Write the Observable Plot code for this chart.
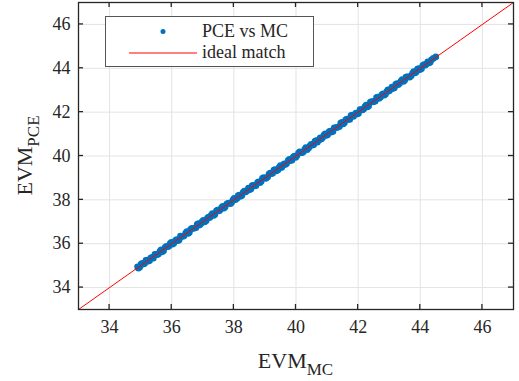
<!DOCTYPE html>
<html>
<head>
<meta charset="utf-8">
<script src="https://cdn.jsdelivr.net/npm/d3@7"></script>
<script src="https://cdn.jsdelivr.net/npm/@observablehq/plot@0.6"></script>
<style>
  html, body { margin: 0; padding: 0; background: #fff; }
  svg { display: block; }
</style>
</head>
<body>
<div id="chart"></div>
<script>
// ---- data ----
const mcValues = [34.90,34.97,35.05,35.13,35.21,35.29,35.37,35.46,35.54,35.62,35.70,35.79,35.87,35.95,36.03,36.12,36.20,36.28,36.36,36.45,36.53,36.61,36.69,36.78,36.86,36.94,37.02,37.11,37.19,37.27,37.35,37.44,37.52,37.60,37.68,37.77,37.85,37.93,38.01,38.10,38.18,38.26,38.34,38.43,38.51,38.59,38.67,38.76,38.84,38.92,39.00,39.09,39.17,39.25,39.33,39.42,39.50,39.58,39.66,39.75,39.83,39.91,39.99,40.08,40.16,40.24,40.32,40.41,40.49,40.57,40.65,40.74,40.82,40.90,40.98,41.07,41.15,41.23,41.31,41.40,41.48,41.56,41.64,41.73,41.81,41.89,41.97,42.06,42.14,42.22,42.30,42.39,42.47,42.55,42.63,42.72,42.80,42.88,42.96,43.05,43.13,43.21,43.29,43.38,43.46,43.54,43.62,43.71,43.79,43.87,43.95,44.04,44.12,44.20,44.28,44.36,44.50];
const pceValues = [34.95,34.93,35.11,35.10,35.26,35.23,35.38,35.52,35.50,35.65,35.63,35.84,35.86,36.01,35.98,36.14,36.14,36.35,36.33,36.49,36.47,36.66,36.70,36.73,36.92,36.91,37.07,37.05,37.22,37.30,37.29,37.50,37.49,37.64,37.62,37.81,37.86,37.88,38.07,38.06,38.22,38.20,38.40,38.42,38.46,38.65,38.63,38.79,38.78,38.98,38.99,39.04,39.22,39.21,39.38,39.36,39.56,39.57,39.61,39.80,39.79,39.95,39.93,40.13,40.15,40.19,40.38,40.37,40.53,40.51,40.71,40.73,40.77,40.96,40.94,41.11,41.09,41.29,41.30,41.35,41.54,41.52,41.68,41.67,41.87,41.88,41.92,42.12,42.10,42.26,42.24,42.45,42.46,42.50,42.69,42.68,42.84,42.82,43.02,43.04,43.08,43.27,43.25,43.42,43.40,43.60,43.61,43.66,43.85,43.83,43.99,43.98,44.17,44.19,44.24,44.39,44.52];
const mcValues2 = [34.93,35.01,35.09,35.17,35.25,35.33,35.41,35.50,35.58,35.66,35.74,35.83,35.91,35.99,36.07,36.16,36.24,36.32,36.40,36.49,36.57,36.65,36.73,36.82,36.90,36.98,37.06,37.15,37.23,37.31,37.39,37.48,37.56,37.64,37.72,37.81,37.89,37.97,38.05,38.14,38.22,38.30,38.38,38.47,38.55,38.63,38.71,38.80,38.88,38.96,39.04,39.13,39.21,39.29,39.37,39.46,39.54,39.62,39.70,39.79,39.87,39.95,40.03,40.12,40.20,40.28,40.36,40.45,40.53,40.61,40.69,40.78,40.86,40.94,41.02,41.11,41.19,41.27,41.35,41.44,41.52,41.60,41.68,41.77,41.85,41.93,42.01,42.10,42.18,42.26,42.34,42.43,42.51,42.59,42.67,42.76,42.84,42.92,43.00,43.09,43.17,43.25,43.33,43.42,43.50,43.58,43.66,43.75,43.83,43.91,43.99,44.08,44.16,44.24,44.32,44.42];
const pceValues2 = [34.88,35.06,35.07,35.24,35.20,35.36,35.34,35.52,35.54,35.72,35.68,35.88,35.89,36.06,36.02,36.19,36.17,36.34,36.36,36.55,36.51,36.70,36.71,36.89,36.85,37.01,36.99,37.17,37.19,37.37,37.33,37.53,37.54,37.71,37.67,37.84,37.82,37.99,38.01,38.20,38.16,38.35,38.36,38.54,38.50,38.66,38.64,38.82,38.84,39.02,38.98,39.18,39.19,39.36,39.32,39.49,39.47,39.64,39.66,39.85,39.81,40.00,40.01,40.19,40.15,40.31,40.29,40.47,40.49,40.67,40.63,40.83,40.84,41.01,40.97,41.14,41.12,41.29,41.31,41.50,41.46,41.65,41.66,41.84,41.80,41.96,41.94,42.12,42.14,42.32,42.28,42.48,42.49,42.66,42.62,42.79,42.77,42.94,42.96,43.15,43.11,43.30,43.31,43.49,43.45,43.61,43.59,43.77,43.79,43.97,43.93,44.13,44.14,44.30,44.27,44.45];
const idealX = [33, 47];
const idealY = [33, 47];
const axisDomain = [33, 47];
const tickValues = [34, 36, 38, 40, 42, 44, 46];
const legendLabels = ["PCE vs MC", "ideal match"];
const xLabel = ["EVM", "MC"];
const yLabel = ["EVM", "PCE"];

const points = mcValues.map((mc, i) => ({mc, pce: pceValues[i]}))
  .concat(mcValues2.map((mc, i) => ({mc, pce: pceValues2[i]})));
const ideal = idealX.map((x, i) => ({x, y: idealY[i]}));

const BLUE = "#0072BD", RED = "#FF0000", INK = "#262626", GRID = "#e3e3e3";
const FONT = "'Liberation Serif', 'Times New Roman', serif";

const plot = Plot.plot({
  width: 519,
  height: 381,
  marginLeft: 78,
  marginRight: 6,
  marginTop: 2,
  marginBottom: 72,
  style: {fontFamily: "Liberation Serif", fontSize: "18px", color: INK, background: "#fff"},
  x: {domain: axisDomain, label: null},
  y: {domain: axisDomain, label: null},
  marks: [
    Plot.gridX(tickValues, {stroke: GRID, strokeOpacity: 1}),
    Plot.gridY(tickValues, {stroke: GRID, strokeOpacity: 1}),
    Plot.axisX(tickValues, {tickSize: 0, tickPadding: 11, label: null, fontSize: 18, fill: INK}),
    Plot.axisY(tickValues, {tickSize: 0, tickPadding: 8, label: null, fontSize: 18, fill: INK}),
    Plot.dot(points, {x: "mc", y: "pce", r: 3.3, fill: BLUE, stroke: "none"}),
    Plot.line(ideal, {x: "x", y: "y", stroke: RED, strokeWidth: 1}),
    Plot.frame({stroke: INK, strokeWidth: 1.3})
  ]
});

document.getElementById("chart").appendChild(plot);

const svg = d3.select(plot);
const xs = plot.scale("x"), ys = plot.scale("y");
const x0 = xs.apply(axisDomain[0]), x1 = xs.apply(axisDomain[1]);
const y0 = ys.apply(axisDomain[0]), y1 = ys.apply(axisDomain[1]);
const tl = 5;
const tg = svg.append("g").attr("stroke", INK).attr("stroke-width", 1.3);
tickValues.forEach(v => {
  const px = xs.apply(v), py = ys.apply(v);
  tg.append("line").attr("x1", px).attr("x2", px).attr("y1", y0).attr("y2", y0 - tl);
  tg.append("line").attr("x1", px).attr("x2", px).attr("y1", y1).attr("y2", y1 + tl);
  tg.append("line").attr("y1", py).attr("y2", py).attr("x1", x0).attr("x2", x0 + tl);
  tg.append("line").attr("y1", py).attr("y2", py).attr("x1", x1).attr("x2", x1 - tl);
});

// axis labels with subscripts
const xl = svg.append("text")
  .attr("x", (x0 + x1) / 2).attr("y", 368)
  .attr("text-anchor", "middle")
  .style("font-size", "22px").attr("fill", INK);
xl.append("tspan").text(xLabel[0]);
xl.append("tspan").attr("dy", 7).style("font-size", "17px").text(xLabel[1]);

const yl = svg.append("text")
  .attr("transform", `translate(32,${(y0 + y1) / 2}) rotate(-90)`)
  .attr("text-anchor", "middle")
  .style("font-size", "22px").attr("fill", INK);
yl.append("tspan").text(yLabel[0]);
yl.append("tspan").attr("dy", 7).style("font-size", "17px").text(yLabel[1]);

// legend
const lg = svg.append("g").attr("fill", INK);
lg.append("rect").attr("x", 105.5).attr("y", 16.5).attr("width", 208).attr("height", 50)
  .attr("fill", "#fff").attr("stroke", "#555").attr("stroke-width", 1);
lg.append("circle").attr("cx", 163).attr("cy", 31.5).attr("r", 2.5).attr("fill", BLUE);
lg.append("line").attr("x1", 129).attr("x2", 197).attr("y1", 53).attr("y2", 53)
  .attr("stroke", RED).attr("stroke-width", 1);
lg.append("text").attr("x", 202).attr("y", 37).attr("text-anchor", "start").style("font-size", "18px").text(legendLabels[0]);
lg.append("text").attr("x", 202).attr("y", 58).attr("text-anchor", "start").style("font-size", "18px").text(legendLabels[1]);

svg.selectAll("text").style("font-family", FONT);
</script>
</body>
</html>
